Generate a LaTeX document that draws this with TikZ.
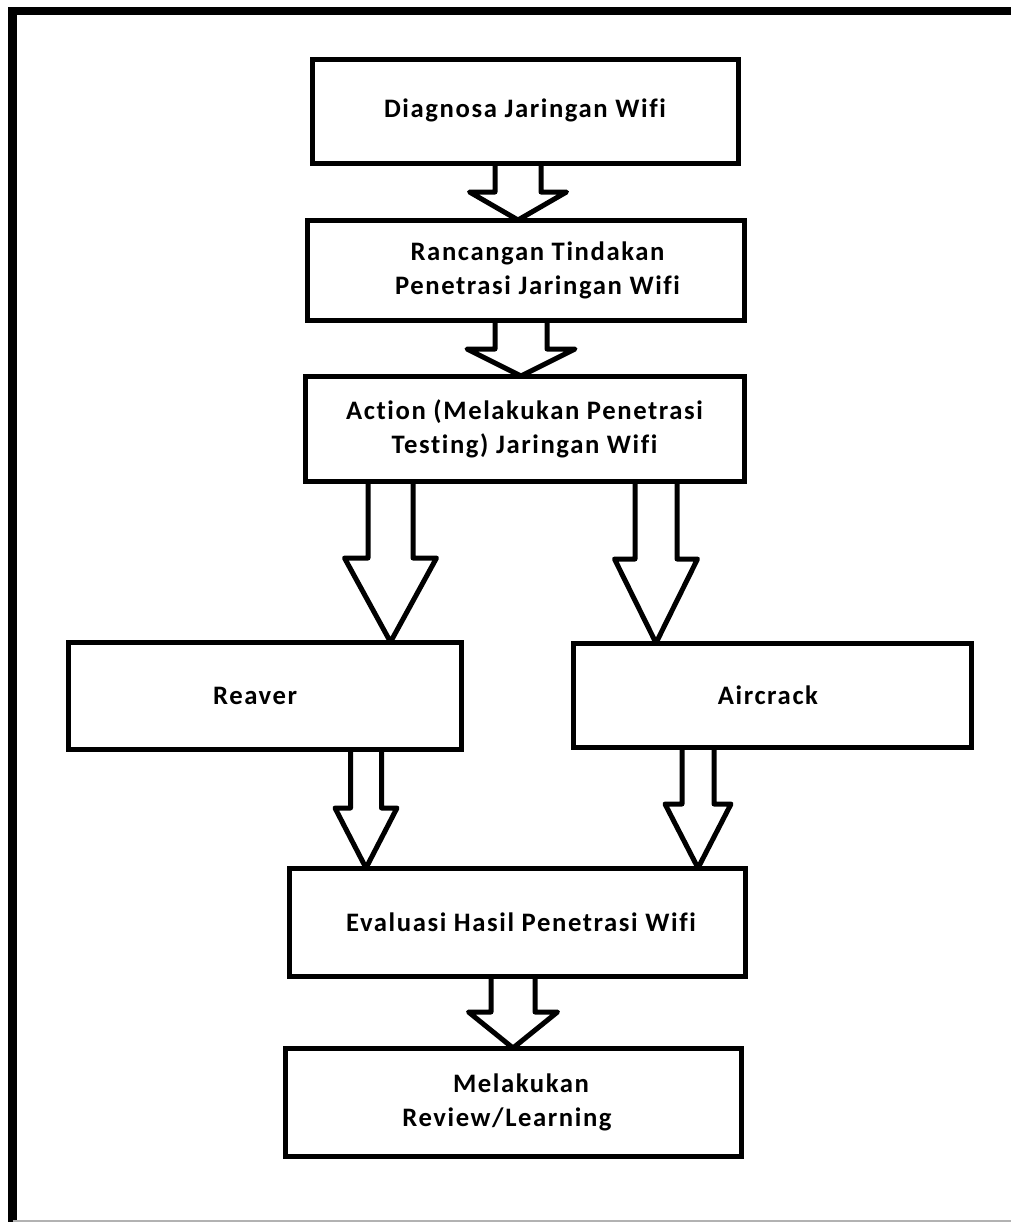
\documentclass[tikz,border=0pt]{standalone}
\usepackage{fontspec}
\setmainfont{Carlito}[Ligatures=NoCommon, LetterSpace=6]
\usetikzlibrary{calc}
\tikzset{
  pic unit/.style={x=0.75pt,y=-0.75pt},
  box/.style 2 args={draw, line width=3.75pt, rectangle, outer sep=0pt, inner sep=0pt,
    minimum width={#1*0.75pt}, minimum height={#2*0.75pt},
    font=\fontsize{20}{25.5}\selectfont\bfseries, align=center},
  barrow/.style={draw, line width=3.75pt, line join=round},
  frameline/.style={line width=6.5pt},
}
\newcommand\blockarrow[6]{%
  \draw[barrow] let \p1=(#1.south), \p2=(#2.north) in
    ({(#3-#4)*0.75pt},\y1) -- ({(#3-#4)*0.75pt},{-#6*0.75pt}) -- ({(#3-#5)*0.75pt},{-#6*0.75pt})
    -- ({#3*0.75pt},\y2) -- ({(#3+#5)*0.75pt},{-#6*0.75pt}) -- ({(#3+#4)*0.75pt},{-#6*0.75pt})
    -- ({(#3+#4)*0.75pt},\y1);}
\begin{document}
\begin{tikzpicture}[pic unit]
\useasboundingbox (0,0) rectangle (1011,1222);
\fill[white] (0,0) rectangle (1011,1222);
% outer frame (cut off at right and bottom)
\draw[frameline] (12.5,1240) -- (12.5,11) -- (1030,11);
\draw[gray!60, line width=0.9pt] (12.5,1221) -- (1011,1221);
% boxes
\node[box={426}{104}] (b1) at (525,111) {\raisebox{4pt}{Diagnosa Jaringan Wifi}};
\node[box={437}{100}] (b2) at (525.5,270) {\hspace*{18pt}Rancangan Tindakan\\\hspace*{18pt}Penetrasi Jaringan Wifi};
\node[box={439}{105}] (b3) at (524.5,428.5) {\raisebox{2pt}{Action (Melakukan Penetrasi}\\\raisebox{2pt}{Testing) Jaringan Wifi}};
\node[box={393}{107}] (b4) at (264.5,695.5) {Reaver\hspace*{14pt}};
\node[box={398}{104}] (b5) at (772,695) {Aircrack\hspace*{6pt}};
\node[box={456}{108}] (b6) at (517,922) {\hspace*{6pt}Evaluasi Hasil Penetrasi Wifi};
\node[box={456}{108}] (b7) at (513,1102) {\hspace*{12pt}Melakukan\\Review/Learning\hspace*{9pt}};
% block arrows
\blockarrow{b1}{b2}{518}{23}{48.5}{192}
\blockarrow{b2}{b3}{521}{26}{54}{349}
\blockarrow{b3}{b4}{390.5}{22.5}{46}{558}
\blockarrow{b3}{b5}{656}{21}{41.5}{559}
\blockarrow{b4}{b6}{366}{15.5}{31}{808}
\blockarrow{b5}{b6}{698}{16}{33}{804}
\blockarrow{b6}{b7}{513}{22}{44.5}{1012}
\end{tikzpicture}
\end{document}
